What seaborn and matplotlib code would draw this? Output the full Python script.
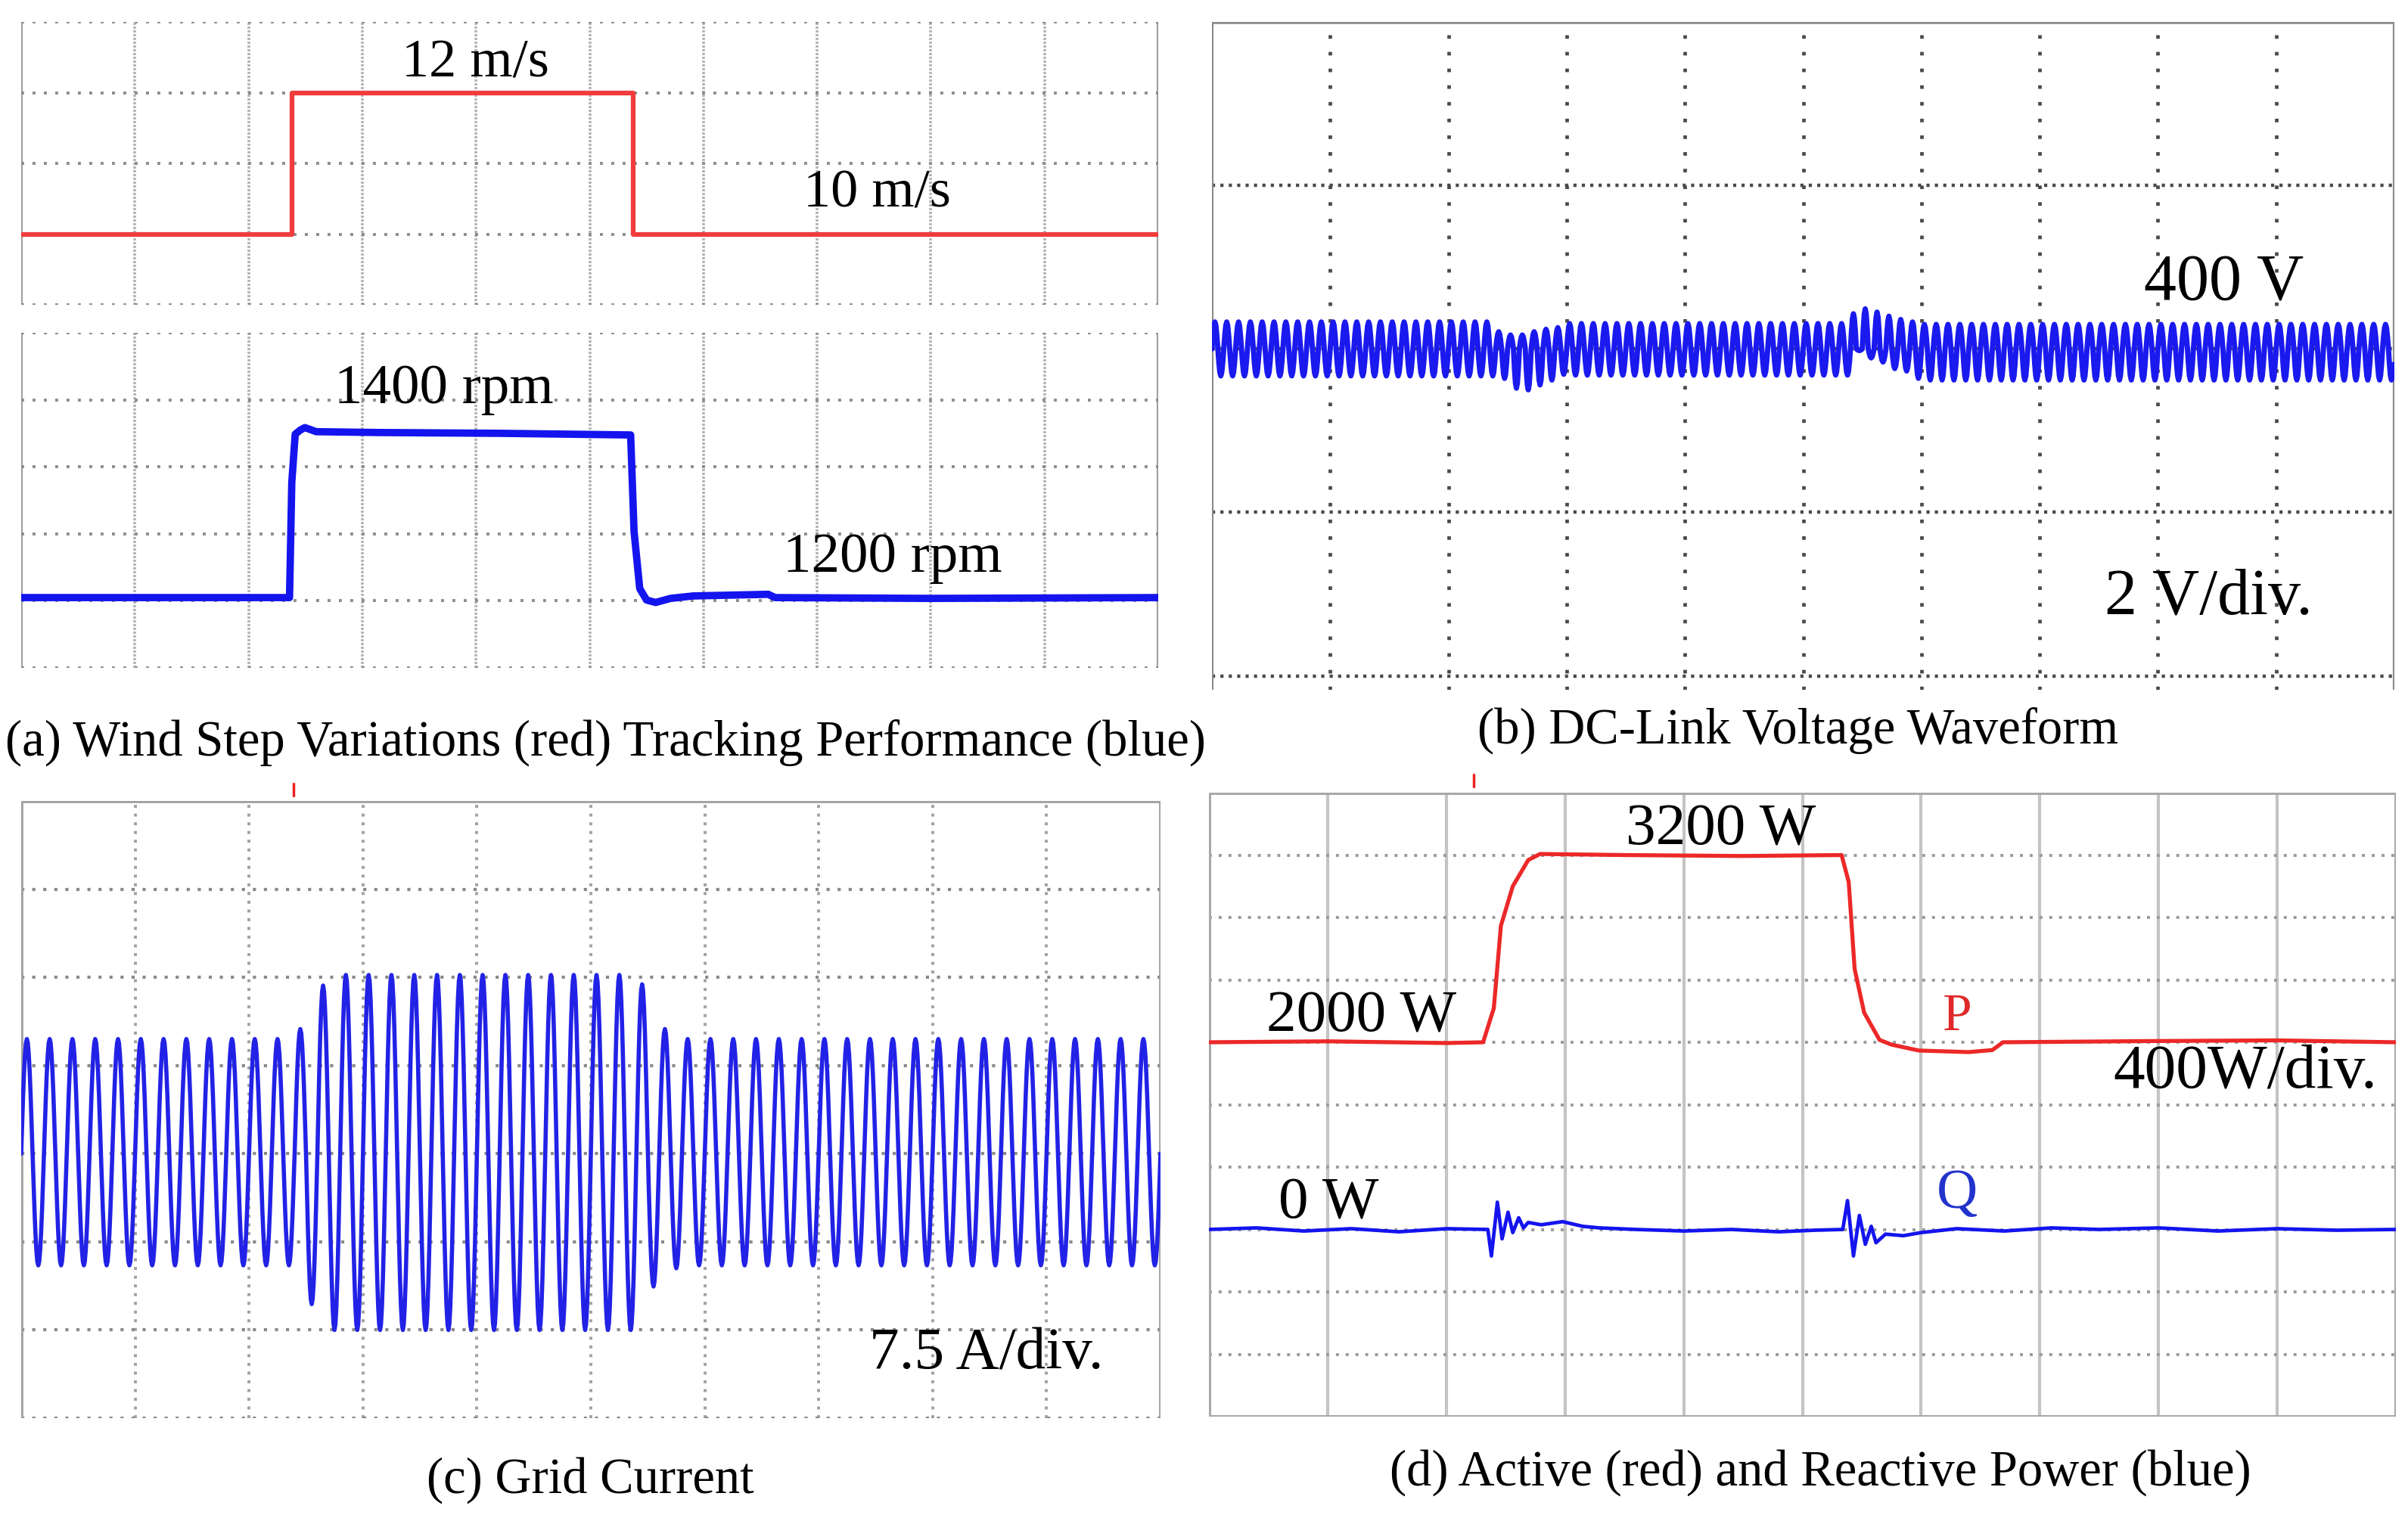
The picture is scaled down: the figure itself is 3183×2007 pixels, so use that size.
import numpy as np
import pandas as pd
import seaborn as sns
import matplotlib.pyplot as plt
from matplotlib.lines import Line2D

sns.set_theme(style="white")
plt.rcParams['font.family'] = ['Liberation Serif', 'DejaVu Serif']
plt.rcParams['lines.scale_dashes'] = False

W, H = 3183, 2007

# ---- (a) wind step (m/s) and rotor speed (rpm), time in scope divisions
wind_t = [0, 2.385, 2.385, 5.38, 5.38, 10]
wind_v = [10, 10, 12, 12, 10, 10]

rpm_t = [0, 2.36, 2.38, 2.41, 2.455, 2.495, 2.595, 3.13, 4.2, 5.36, 5.39, 5.44, 5.50,
         5.58, 5.71, 5.91, 6.57, 6.63, 8.0, 10]
rpm_v = [1200, 1200, 1341, 1400, 1405, 1408, 1403, 1402, 1401, 1399, 1281, 1211, 1197,
         1194, 1199, 1202, 1204, 1200, 1199, 1200]

# ---- (b) DC-link ripple: upper / lower excursion per ripple cycle (V around 400 V)
dc_top = [0.33] * 24 + [0.21, 0.17, 0.17, 0.21, 0.24, 0.26] + [0.31] * 24 \
    + [0.43, 0.49, 0.45, 0.40, 0.36, 0.33] + [0.30] * 40
dc_bot = [-0.33] * 24 + [-0.36, -0.48, -0.50, -0.44, -0.38, -0.31] + [-0.32] * 24 \
    + [-0.02, -0.11, -0.16, -0.24, -0.27, -0.36] + [-0.38] * 40

# ---- (c) grid current: positive / negative peak per cycle (A)
cur_pk = [9.75] * 12 + [10.6, 14.3] + [15.2] * 13 + [14.4, 10.6] + [9.75] * 21
cur_tr = [9.5] * 12 + [12.8, 15.0] + [15.0] * 13 + [11.3, 9.75] + [9.5] * 21

# ---- (d) active power P and reactive power Q (W)
p_t = [0, 1.0, 2.0, 2.31, 2.40, 2.46, 2.56, 2.69, 2.79, 3.5, 4.5, 5.33, 5.39, 5.44,
       5.52, 5.65, 5.75, 5.98, 6.40, 6.60, 6.69, 8.0, 9.0, 10]
p_v = [2000, 2006, 1995, 2000, 2218, 2747, 3000, 3168, 3207, 3200, 3194, 3200, 3028, 2470,
       2190, 2015, 1985, 1947, 1937, 1950, 2000, 2008, 2012, 2000]

q_t = [0, 0.4, 0.8, 1.2, 1.6, 2.0, 2.35, 2.38, 2.43, 2.47, 2.52, 2.56, 2.61, 2.65, 2.69,
       2.8, 2.98, 3.15, 3.29, 3.6, 4.0, 4.4, 4.8, 5.1, 5.34, 5.38, 5.43, 5.48, 5.53, 5.58,
       5.62, 5.7, 5.85, 6.0, 6.3, 6.7, 7.1, 7.5, 8.0, 8.5, 9.0, 9.5, 10]
q_v = [0, 10, -10, 5, -15, 5, 0, -170, 175, -60, 110, -20, 75, 10, 45,
       30, 50, 20, 10, 0, -10, 0, -15, -5, 0, 185, -170, 90, -95, 20,
       -85, -30, -40, -20, 5, -10, 10, 0, 10, -10, 5, -5, 0]

RED = '#f03c3c'
BLUE = '#1414ee'


def add_ax(x0, y0, x1, y1):
    ax = fig.add_axes([x0 / W, 1 - y1 / H, (x1 - x0) / W, (y1 - y0) / H])
    ax.set_xlim(0, 10)
    for s in ax.spines.values():
        s.set_visible(False)
    ax.set_xticks([])
    ax.set_yticks([])
    ax.patch.set_alpha(0)
    return ax


def dots(ax, pos, horiz, color, lw, on, off):
    f = ax.axhline if horiz else ax.axvline
    f(pos, color=color, lw=lw, ls=(0, (on, off)), zorder=1)


def solid(ax, pos, horiz, color='#9a9a9a', lw=3.2):
    f = ax.axhline if horiz else ax.axvline
    f(pos, color=color, lw=lw, zorder=1, solid_capstyle='butt')


def trace(ax, t, v, color, lw):
    df = pd.DataFrame({'t': t, 'v': v})
    sns.lineplot(data=df, x='t', y='v', ax=ax, color=color, linewidth=lw,
                 estimator=None, sort=False, zorder=3)
    ax.set_xlabel('')
    ax.set_ylabel('')


fig = plt.figure(figsize=(W / 100, H / 100), dpi=100)

# ---------------- (a) top: wind speed
ax1 = add_ax(28, 29, 1531, 403)
ax1.set_ylim(9, 13)
for k in range(1, 10):
    dots(ax1, k, False, '#b4b4b4', 2.6, 2.2, 1.4)
for k in [0, 10]:
    solid(ax1, k, False, '#a0a0a0', 3.0)
for yv in [9, 10, 11, 12, 13]:
    dots(ax1, yv, True, '#8c8c8c', 2.8, 2.8, 8.0)
trace(ax1, wind_t, wind_v, RED, 4.5)

# ---------------- (a) bottom: rotor speed
ax2 = add_ax(28, 440, 1531, 883)
ax2.set_ylim(1114, 1524)
for k in range(1, 10):
    dots(ax2, k, False, '#b4b4b4', 2.6, 2.2, 1.4)
for k in [0, 10]:
    solid(ax2, k, False, '#a0a0a0', 3.0)
for yv in np.linspace(1114, 1524, 6):
    dots(ax2, yv, True, '#8c8c8c', 2.8, 2.8, 8.0)
trace(ax2, rpm_t, rpm_v, BLUE, 7.0)

# ---------------- (b) DC-link voltage
ax3 = add_ax(1602, 29, 3165, 912)
ax3.set_ylim(395.83, 404.0)
for k in range(1, 10):
    dots(ax3, k, False, '#4a4a4a', 3.4, 3.4, 12.5)
for yv in [402, 400, 398, 396]:
    dots(ax3, yv, True, '#4a4a4a', 3.2, 3.0, 5.0)
solid(ax3, 0, False, '#8a8a8a', 3.0)
solid(ax3, 10, False, '#8a8a8a', 3.0)
solid(ax3, 404.0, True, '#8a8a8a', 4.0)
u = np.linspace(0, 1, 12, endpoint=False)
s = np.sin(2 * np.pi * u)
dc_t, dc_v = [], []
for k in range(len(dc_top)):
    dc_t.extend((k + u) / 10.0)
    dc_v.extend(np.where(s >= 0, 400 + s * dc_top[k], 400 - s * dc_bot[k]))
trace(ax3, dc_t, dc_v, '#1a1aee', 5.0)

# ---------------- (c) grid current
ax4 = add_ax(28, 1059, 1534, 1875)
ax4.set_ylim(-22.5, 30)
for k in range(1, 10):
    dots(ax4, k, False, '#a0a0a0', 2.8, 2.8, 5.5)
for yv in np.arange(-22.5, 30, 7.5):
    dots(ax4, yv, True, '#8a8a8a', 3.0, 3.0, 7.5)
solid(ax4, 0, False, '#a0a0a0', 3.4)
solid(ax4, 10, False, '#a0a0a0', 3.4)
solid(ax4, 30, True, '#a0a0a0', 3.4)
u = np.linspace(0, 1, 24, endpoint=False)
s = np.sin(2 * np.pi * u)
cur_t, cur_v = [], []
for k in range(len(cur_pk)):
    cur_t.extend((k + u) / 5.0)
    cur_v.extend(np.where(s >= 0, s * cur_pk[k], s * cur_tr[k]))
cur_t.append(10.0)
cur_v.append(0.0)
trace(ax4, cur_t, cur_v, '#2222e6', 4.0)

# ---------------- (d) active / reactive power (2000 W at div 6, 0 W at div 3, 400 W/div)
ax5 = add_ax(1598, 1048, 3167, 1873)
ax5.set_ylim(0, 10)
for k in range(1, 10):
    solid(ax5, k, False, '#c4c4c4', 3.0)
for yv in range(1, 10):
    dots(ax5, yv, True, '#9a9a9a', 2.8, 2.8, 6.5)
for k in [0, 10]:
    solid(ax5, k, False, '#a8a8a8', 3.6)
    solid(ax5, k, True, '#a8a8a8', 3.6)
trace(ax5, p_t, [(p - 2000) / 400 + 6 for p in p_v], '#ec2828', 3.8)
trace(ax5, q_t, [q / 400 + 3 for q in q_v], BLUE, 3.4)


def ftext(x, y, txt, size, color='black', ha='center'):
    fig.text(x / W, 1 - y / H, txt, fontsize=size, color=color, ha=ha, va='center')


# annotations
ftext(628, 84, '12 m/s', 52)
ftext(1159, 256, '10 m/s', 52)
ftext(587, 515, '1400 rpm', 54)
ftext(1180, 738, '1200 rpm', 54)
ftext(2940, 376, '400 V', 62)
ftext(2919, 791, '2 V/div.', 62)
ftext(1304, 1791, '7.5 A/div.', 57)
ftext(2275, 1098, '3200 W', 57)
ftext(1800, 1345, '2000 W', 57)
ftext(2587, 1345, 'P', 50, color='#e02828')
ftext(2968, 1418, '400W/div.', 60)
ftext(1756, 1592, '0 W', 57)
ftext(2587, 1579, 'Q', 54, color='#2233cc')

# captions
ftext(800, 982, '(a) Wind Step Variations (red) Tracking Performance (blue)', 48)
ftext(2377, 966, '(b) DC-Link Voltage Waveform', 48)
ftext(780, 1957, '(c) Grid Current', 48)
ftext(2406, 1947, '(d) Active (red) and Reactive Power (blue)', 48)

# small trigger marks above (c) and (d)
for xm, y1, y2 in [(388, 1036, 1052), (1948, 1024, 1040)]:
    fig.add_artist(Line2D([xm / W, xm / W], [1 - y1 / H, 1 - y2 / H], color='#ee2222', lw=2.5))

fig.savefig('out.png', dpi=100)
